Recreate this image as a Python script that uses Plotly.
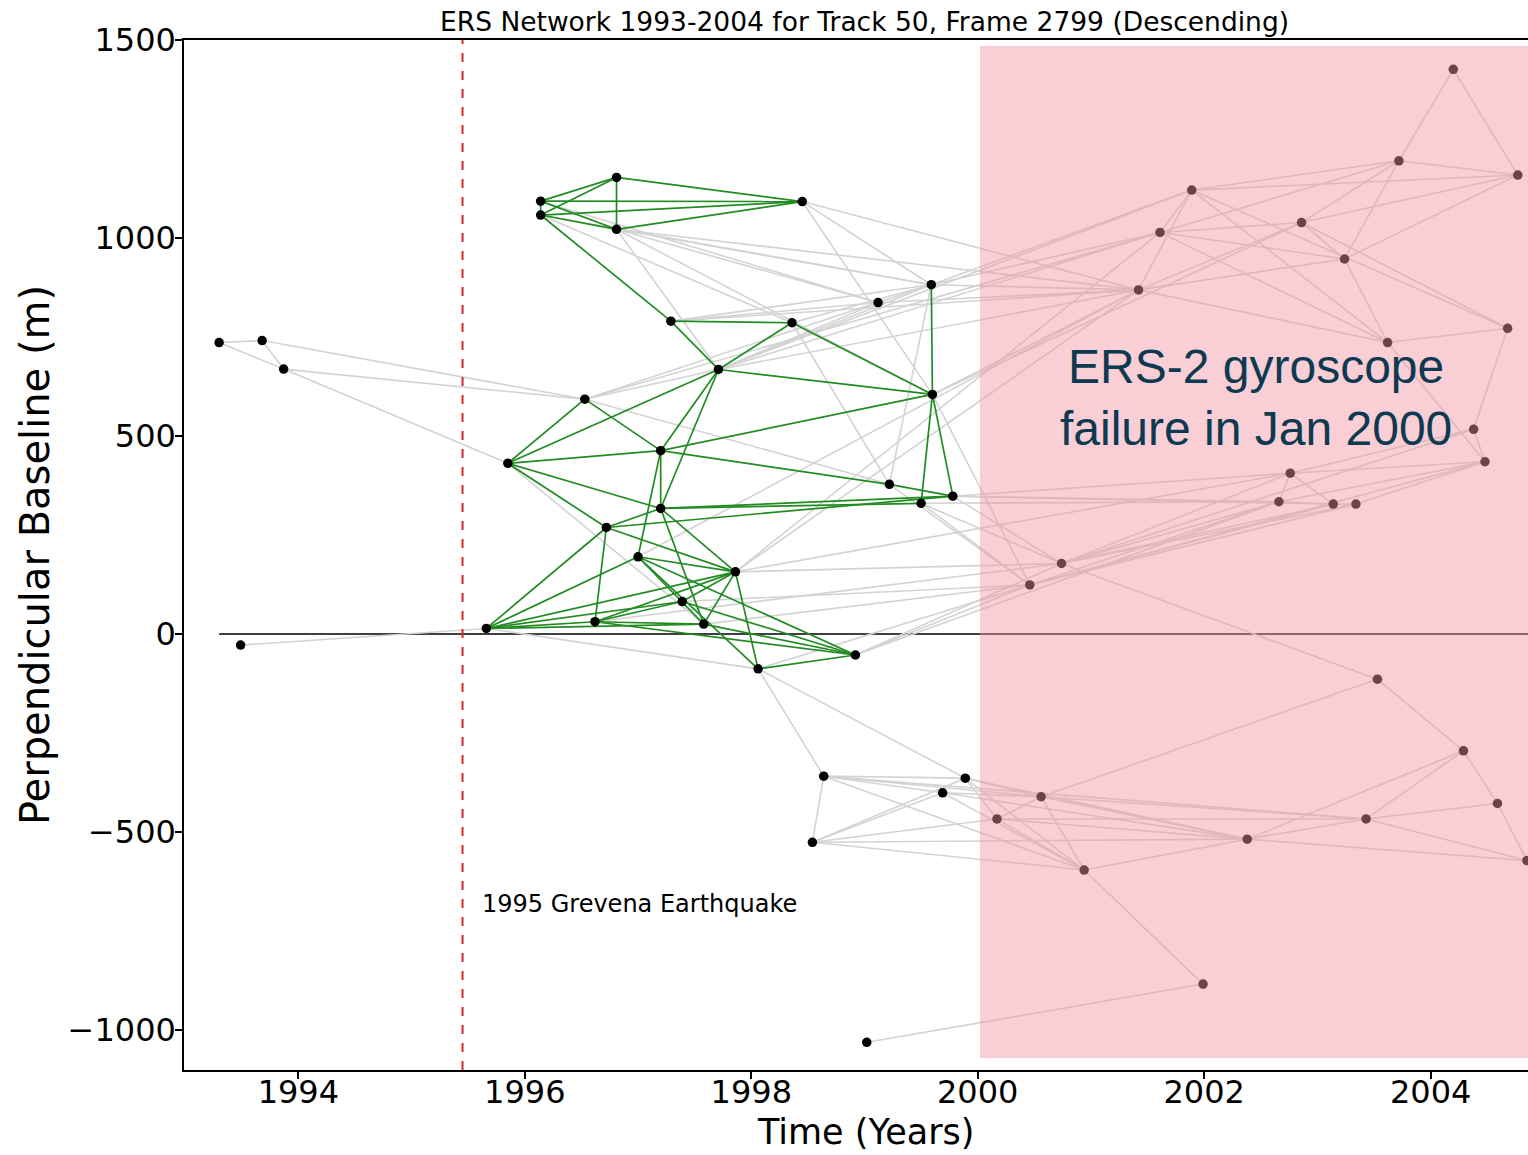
import plotly.graph_objects as go

# ---------------- data ----------------
node_ids = ["A", "B", "C", "D", "E", "F", "G", "H", "I", "J", "K", "L", "M", "N", "O", "P",
            "Q", "R", "S", "T", "U", "V", "W", "X", "Y", "Z", "AA", "AB", "AC", "AD", "AE",
            "AF", "AG", "AH", "AI", "AJ",
            "p1", "p2", "p3", "p4", "p5", "p6", "p7", "p8", "p9", "p10",
            "q1", "q2", "q3", "q4", "q5", "q6", "q7", "q8", "q9",
            "r2", "r3", "r4", "r5", "r6", "r7", "r8", "r9", "r10"]
node_year = [1993.30, 1993.68, 1993.87, 1993.49, 1996.14, 1996.14, 1996.81, 1996.81, 1998.45,
             1997.29, 1998.36, 1997.71, 1999.60, 1996.53, 1995.85, 1997.20, 1999.22, 1999.50,
             1999.78, 1997.20, 1996.72, 1997.00, 1997.86, 1997.39, 1996.62, 1997.58, 1995.66,
             1998.06, 1998.92, 1999.12, 1999.59, 1998.64, 1998.54, 1999.69, 1999.89, 1999.02,
             2004.20, 2003.72, 2004.77, 2001.89, 2001.61, 2002.86, 2003.24, 2001.42, 2004.68, 2003.62,
             2004.38, 2004.48, 2002.76, 2002.66, 2003.14, 2003.34, 2000.74, 2000.46, 2003.53,
             2004.29, 2004.59, 2004.85, 2003.43, 2002.38, 2000.56, 2000.17, 2000.94, 2001.99]
node_bperp = [736, 741, 669, -28, 1093, 1058, 1153, 1022, 1092,
              790, 786, 668, 605, 593, 431, 463, 378, 330,
              348, 317, 269, 195, 157, 82, 31, 25, 14,
              -88, -53, 837, 882, -359, -526, -401, -364, -1031,
              1426, 1195, 1159, 1121, 1014, 1039, 947, 869, 772, 736,
              517, 435, 406, 334, 328, 328, 178, 124, -114,
              -295, -428, -572, -467, -518, -411, -467, -596, -884]

green_edges = [("E", "F"), ("E", "G"), ("E", "H"), ("E", "I"), ("F", "G"), ("F", "H"), ("F", "I"),
               ("G", "H"), ("G", "I"), ("H", "I"),
               ("F", "J"), ("J", "K"), ("J", "L"), ("K", "L"), ("K", "M"), ("L", "M"), ("M", "AE"),
               ("L", "O"), ("L", "P"), ("L", "T"), ("N", "O"), ("N", "P"), ("O", "P"), ("O", "T"), ("O", "U"),
               ("P", "M"), ("M", "R"), ("M", "S"), ("P", "Q"), ("Q", "S"), ("P", "T"), ("P", "V"),
               ("T", "S"), ("T", "R"), ("U", "S"), ("T", "U"), ("T", "W"), ("T", "Z"), ("U", "W"), ("U", "Y"),
               ("V", "W"), ("V", "Z"), ("V", "AB"), ("V", "AC"), ("W", "X"), ("W", "Y"), ("W", "Z"), ("W", "AB"),
               ("X", "Y"), ("Y", "Z"), ("Y", "AC"), ("Z", "AC"), ("AB", "AC"), ("X", "AC"),
               ("AA", "U"), ("AA", "V"), ("AA", "W"), ("AA", "X"), ("AA", "Y"), ("AA", "Z")]

gray_edges = [("A", "B"), ("A", "C"), ("B", "C"), ("B", "N"), ("C", "N"), ("C", "O"), ("D", "AA"),
              ("AA", "AB"), ("O", "Z"),
              ("E", "AD"), ("F", "AE"), ("F", "K"), ("H", "AE"), ("H", "AD"), ("H", "p8"), ("H", "M"), ("H", "L"),
              ("I", "AE"), ("I", "M"), ("I", "p8"),
              ("J", "AD"), ("J", "AE"), ("J", "p8"),
              ("K", "AE"), ("K", "Q"), ("Q", "AE"),
              ("L", "AE"), ("L", "AD"), ("L", "p4"), ("L", "p5"), ("L", "p8"),
              ("N", "AE"), ("N", "p5"), ("N", "Q"), ("N", "L"),
              ("AD", "p8"), ("AE", "p5"), ("AE", "p8"), ("AE", "p4"),
              ("M", "p6"), ("M", "p8"), ("M", "q8"),
              ("V", "p8"), ("W", "p5"), ("W", "p8"), ("W", "q3"),
              ("W", "q7"), ("X", "q8"), ("Z", "q8"), ("Y", "q7"), ("AB", "q8"), ("AC", "q7"), ("AC", "q8"), ("AC", "q4"),
              ("S", "q4"), ("S", "q3"), ("S", "q5"), ("S", "q7"), ("R", "q7"), ("R", "q8"), ("Q", "q8"), ("R", "q4"),
              ("q7", "q9"),
              ("q7", "q3"), ("q7", "q4"), ("q7", "q5"), ("q7", "q6"), ("q7", "q1"),
              ("q8", "q4"), ("q8", "q5"), ("q8", "q6"), ("q8", "q2"),
              ("q3", "q4"), ("q3", "q5"), ("q3", "q1"), ("q3", "q2"), ("q4", "q5"), ("q4", "q2"),
              ("q5", "q6"), ("q6", "q2"), ("q1", "q2"),
              ("p1", "p2"), ("p1", "p3"), ("p2", "p3"), ("p2", "p4"), ("p2", "p5"), ("p2", "p7"), ("p2", "p6"),
              ("p3", "p4"), ("p3", "p6"), ("p3", "p7"),
              ("p4", "p5"), ("p4", "p8"), ("p4", "p10"), ("p4", "p9"), ("p5", "p6"), ("p5", "p7"), ("p5", "p10"),
              ("p6", "p7"), ("p6", "p8"), ("p6", "p9"), ("p7", "p8"), ("p7", "p10"), ("p8", "p10"),
              ("p9", "p10"), ("p9", "q1"), ("p10", "q2"),
              ("q9", "r2"), ("q9", "r7"), ("r2", "r3"), ("r2", "r5"), ("r2", "r6"), ("r3", "r4"), ("r3", "r5"),
              ("r4", "r5"), ("r4", "r6"), ("r5", "r6"), ("r6", "r7"), ("r6", "r8"), ("r6", "r9"),
              ("r7", "r8"), ("r7", "r9"), ("r8", "r9"), ("r7", "r5"), ("r8", "r5"), ("r9", "r10"), ("AJ", "r10"),
              ("AB", "AF"), ("AB", "AI"), ("AF", "AG"), ("AF", "AI"), ("AF", "AH"), ("AF", "r7"), ("AF", "r9"),
              ("AF", "r5"), ("AG", "AI"), ("AG", "AH"), ("AG", "r8"), ("AG", "r9"), ("AG", "r6"),
              ("AH", "r7"), ("AH", "r9"), ("AH", "r6"), ("AI", "r7"), ("AI", "r9"), ("AI", "r6"), ("AI", "r8")]

x_ticks = [1994, 1996, 1998, 2000, 2002, 2004]
y_ticks = [-1000, -500, 0, 500, 1000, 1500]
x_range = [1992.99, 2004.86]
y_range = [-1101, 1500]
quake_year = 1995.45
gyro_fail_year = 2000.02

# ---------------- build ----------------
pos = {n: (x, y) for n, x, y in zip(node_ids, node_year, node_bperp)}


def edge_xy(edges):
    xs, ys = [], []
    for a, b in edges:
        xs += [pos[a][0], pos[b][0], None]
        ys += [pos[a][1], pos[b][1], None]
    return xs, ys


gx, gy = edge_xy(gray_edges)
nx_, ny_ = edge_xy(green_edges)

fig = go.Figure()
fig.add_trace(go.Scatter(x=gx, y=gy, mode="lines", line=dict(color="#d3d3d3", width=1.6),
                         hoverinfo="skip", showlegend=False))
fig.add_trace(go.Scatter(x=nx_, y=ny_, mode="lines", line=dict(color="#228b22", width=1.7),
                         hoverinfo="skip", showlegend=False))
fig.add_trace(go.Scatter(x=node_year, y=node_bperp, mode="markers", text=node_ids,
                         marker=dict(color="black", size=9.5), showlegend=False))

# zero baseline
fig.add_shape(type="line", x0=1993.30, x1=x_range[1], y0=0, y1=0, xref="x", yref="y",
              line=dict(color="black", width=1.5), layer="below")
# earthquake line
fig.add_shape(type="line", x0=quake_year, x1=quake_year, y0=0, y1=1, xref="x", yref="paper",
              line=dict(color="#d62728", width=2, dash="dash"), layer="above")
# gyroscope failure overlay
fig.add_shape(type="rect", x0=gyro_fail_year, x1=x_range[1] + 0.2, y0=-1071, y1=1485, xref="x", yref="y",
              fillcolor="rgba(242,146,162,0.45)", line=dict(width=0), layer="above")

fig.add_annotation(x=1995.60, y=-682, xref="x", yref="y", text="1995 Grevena Earthquake",
                   showarrow=False, xanchor="left", yanchor="middle",
                   font=dict(family="DejaVu Sans", size=24, color="black"))
fig.add_annotation(x=2002.46, y=596, xref="x", yref="y", text="ERS-2 gyroscope<br>failure in Jan 2000",
                   showarrow=False, xanchor="center", yanchor="middle",
                   font=dict(family="Liberation Sans, Arial", size=48, color="#0d3a50"))
fig.add_annotation(x=0.506, y=1, xref="paper", yref="paper", yanchor="bottom", yshift=1,
                   text="ERS Network 1993-2004 for Track 50, Frame 2799 (Descending)",
                   showarrow=False, font=dict(family="DejaVu Sans", size=26.5, color="black"))
# x-axis title
fig.add_annotation(x=0.507, y=0, xref="paper", yref="paper", yanchor="bottom", yshift=-84,
                   text="Time (Years)", showarrow=False,
                   font=dict(family="DejaVu Sans", size=35, color="black"))

axis_common = dict(showgrid=False, zeroline=False, showline=True, linecolor="black", linewidth=1.5,
                   ticks="outside", ticklen=7, tickwidth=1.5, tickcolor="black",
                   tickfont=dict(family="DejaVu Sans", size=32, color="black"), automargin=False)

fig.update_layout(
    template="none",
    width=1528, height=1155,
    margin=dict(l=184, r=0, t=40, b=85),
    paper_bgcolor="white", plot_bgcolor="white",
    xaxis=dict(range=x_range, tickvals=x_ticks, mirror=True, ticklabelstandoff=-14,
               **axis_common),
    yaxis=dict(range=y_range, tickvals=y_ticks, ticklabelstandoff=-7,
               title=dict(text="Perpendicular Baseline (m)",
                          font=dict(family="DejaVu Sans", size=40, color="black"), standoff=6),
               **axis_common),
)

fig.write_html("out.html")
